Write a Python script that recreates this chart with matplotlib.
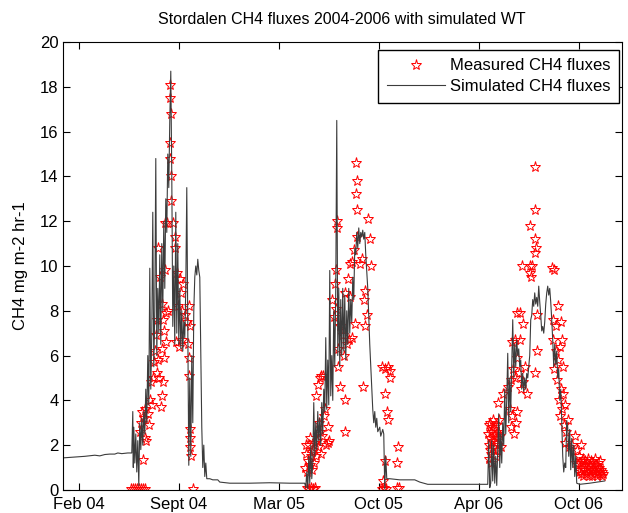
import numpy as np
import matplotlib
matplotlib.use('Agg')
from matplotlib import pyplot as plt

plt.rcParams['font.family'] = ['Liberation Sans', 'DejaVu Sans']

# days since 1 Jan 2004
tick_days = [36, 236, 436, 636, 836, 1036]
tick_labels = ['Feb 04', 'Sept 04', 'Mar 05', 'Oct 05', 'Apr 06', 'Oct 06']

# simulated CH4 flux (day, value)
sim_day = [
    4, 28, 48, 68, 78, 88, 98, 108, 114, 122, 134, 142,
    144, 145, 146, 148, 150, 152, 154, 156, 158, 160, 162, 164, 166, 168, 170, 172,
    174, 176, 178, 180, 182, 184, 186, 188, 190, 192, 194, 196, 198, 200, 202, 204,
    206, 208, 210, 212, 214, 216, 218, 220, 222, 224, 226, 228, 230, 232, 234, 236,
    238, 240, 242, 244, 246, 248, 250, 252, 254, 256, 258, 260, 262, 264, 266, 268,
    270, 272, 274, 276, 278, 280, 282, 284, 286, 288, 290, 292, 294, 298, 304, 314,
    318, 338, 378, 418, 458, 488,
    490, 492, 494, 496, 498, 500, 502, 504, 506, 508, 510, 512, 514, 516, 518, 520,
    522, 524, 526, 528, 530, 532, 534, 536, 538, 540, 542, 544, 546, 548, 550, 552,
    554, 556, 558, 560, 562, 564, 566, 568, 570, 572, 574, 576, 578, 580, 582, 584,
    586, 588, 590, 592, 594, 596, 598, 600, 602, 604, 606, 608, 610, 614, 618, 622,
    624, 626, 628, 630, 632, 634, 638, 640, 644, 646, 648, 650, 652, 658, 678, 708,
    718, 734, 778,
    854, 856, 858, 860, 862, 864, 866, 868, 870, 872, 874, 876, 878, 880, 882, 884,
    886, 888, 890, 892, 894, 896, 898, 900, 902, 904, 906, 908, 910, 912, 914, 916,
    918, 920, 922, 924, 926, 928, 930, 932, 934, 938, 940, 942, 944, 946, 948, 950,
    952, 954, 956, 958, 960, 962, 964, 966, 968, 970, 972, 974, 976, 978, 980, 982,
    984, 986, 988, 990, 992, 994, 996, 998, 1000, 1002, 1004, 1006, 1008, 1010, 1012,
    1014, 1016, 1018, 1020, 1022, 1024, 1026, 1028, 1030, 1032, 1038, 1058, 1088,
]
sim_val = [
    1.43, 1.47, 1.50, 1.55, 1.52, 1.58, 1.60, 1.60, 1.65, 1.62, 1.65, 1.65,
    3.5, 1.0, 2.8, 1.2, 2.5, 0.8, 2.2, 0.2, 3.0, 1.8, 3.2, 2.0, 3.5, 2.5, 4.5, 3.0,
    6.0, 3.8, 9.9, 4.5, 7.0, 12.4, 5.5, 8.0, 14.8, 6.0, 9.0, 7.0, 10.5, 6.5, 11.0, 8.0,
    12.0, 9.0, 13.0, 11.5, 15.0, 13.5, 16.5, 18.7, 14.0, 7.3, 10.0, 6.5, 12.4, 7.0, 11.0, 6.5,
    9.0, 6.3, 8.0, 6.2, 7.5, 6.8, 9.0, 13.5, 7.0, 1.1, 5.0, 1.5, 6.0, 3.0, 8.0, 9.5,
    10.0, 9.6, 10.3, 9.8, 9.5, 6.0, 2.8, 1.0, 2.0, 0.6, 1.2, 0.5, 0.5, 0.5, 0.45, 0.45,
    0.35, 0.3, 0.3, 0.32, 0.3, 0.3,
    0.1, 0.8, 0.05, 1.5, 0.3, 2.0, 0.5, 1.2, 3.9, 1.5, 3.0, 1.8, 3.5, 2.2, 3.2, 2.0,
    3.9, 2.5, 4.5, 3.5, 6.8, 3.6, 5.8, 3.8, 9.8, 4.2, 6.0, 4.0, 8.0, 5.5, 9.0, 16.5,
    6.0, 9.0, 5.5, 8.5, 6.0, 9.0, 6.2, 8.7, 5.8, 8.0, 6.5, 9.0, 7.0, 8.5, 7.5, 9.5,
    8.5, 10.8, 10.5, 11.5, 10.8, 11.7, 11.0, 11.5, 11.3, 11.6, 11.2, 11.5, 10.5, 9.0, 6.5, 4.5,
    3.6, 3.0, 3.5, 2.8, 3.2, 2.6, 2.8, 2.4, 2.7, 2.5, 0.05, 1.5, 0.5, 0.5, 0.45, 0.45,
    0.35, 0.25, 0.25,
    0.25, 2.2, 0.1, 0.3, 2.2, 0.4, 2.0, 0.3, 1.5, 0.2, 1.8, 3.4, 1.0, 2.5, 1.2, 3.0,
    2.0, 4.5, 2.5, 4.0, 6.1, 3.0, 5.0, 3.5, 5.5, 7.6, 5.0, 6.5, 5.5, 6.7, 6.0, 6.3,
    5.5, 5.8, 4.5, 5.2, 4.4, 5.0, 4.5, 5.2, 5.0, 6.0, 7.6, 7.8, 8.5, 8.2, 8.8, 8.3,
    8.6, 8.2, 9.1, 8.4, 7.8, 7.1, 7.3, 7.0, 7.5, 8.3, 8.8, 9.1, 8.7, 9.0, 8.4, 7.6,
    6.7, 5.5, 6.5, 5.6, 6.2, 5.0, 5.4, 4.0, 4.5, 3.1, 1.5, 0.8, 1.2, 1.0, 3.1,
    2.8, 1.5, 2.7, 0.9, 2.3, 1.0, 2.0, 0.6, 1.5, 0.3, 0.25, 0.3, 0.4,
]

# measured CH4 flux (day, value)
meas_day = [
    # 2004
    140, 144, 148, 152, 156, 160, 164, 168, 264,
    164, 158, 160, 166, 168, 170, 162, 168, 174, 176, 178, 180, 182, 184, 186, 188,
    192, 194, 196, 190, 192, 194, 198, 208, 202, 204, 206, 210, 214, 202, 206, 210,
    202, 204, 200, 208, 212, 224, 218, 218, 220, 218, 218, 220, 220,
    228, 228, 232, 238, 240, 244, 234, 242, 248, 252, 256, 258, 230, 236, 242, 254,
    256, 256, 258, 258, 258, 260,
    # 2005
    492, 496, 500, 504, 508,
    488, 490, 492, 494, 496, 498, 500, 502, 504, 506, 508, 490, 498, 502, 510,
    512, 516, 518, 522, 526, 530, 534, 536, 514, 520,
    510, 514, 518, 520, 524, 528, 534,
    542, 546, 550, 548, 550, 552, 552,
    554, 558, 564, 554, 558, 566, 572, 576, 568, 568,
    568, 578, 574, 578, 582, 582, 586, 592, 588, 590, 592, 590, 592, 598, 602, 604,
    606, 608, 608, 612, 614, 618, 620,
    642, 648, 654, 658, 658, 648, 652, 654, 648, 644, 642, 646, 650, 674, 672, 672, 676,
    # 2006
    854, 856, 856, 858, 858, 860, 860, 862, 862, 864, 864, 866, 866, 868, 868, 870,
    870, 872, 872, 874, 874, 876, 878, 880, 858, 860, 856,
    874, 884, 894, 898, 900, 902, 906, 910, 912, 900, 904, 908, 902, 908, 918, 912,
    918, 924, 912, 916, 920, 924, 928, 932, 922, 938, 942, 940, 938, 938, 948, 948,
    948, 950, 948, 952, 952, 948,
    982, 986, 994, 984, 990, 1000, 984, 990, 998, 1002, 994, 1004, 986, 992, 1000, 1004,
    996, 1002, 1008, 998, 1006, 1010, 1014, 1008, 1016, 1022,
    1028, 1032, 1036, 1034, 1038, 1042, 1040, 1030,
    1036, 1038, 1040, 1042, 1044, 1044, 1046, 1048, 1048, 1050, 1052, 1052, 1054, 1054,
    1056, 1058, 1058, 1060, 1062, 1062, 1064, 1066, 1066, 1068, 1068, 1070, 1072, 1072,
    1074, 1074, 1076, 1078, 1078, 1080, 1082, 1082, 1084,
]
meas_val = [
    # 2004
    0.05, 0.05, 0.05, 0.05, 0.05, 0.05, 0.05, 0.05, 0.05,
    1.35, 2.6, 3.0, 3.2, 2.3, 2.2, 3.5, 3.6, 3.4, 2.9, 4.0, 4.8, 3.8, 5.0, 5.7, 6.2,
    5.2, 5.8, 5.0, 6.9, 7.6, 10.8, 9.5, 9.8, 8.3, 7.6, 7.1, 7.9, 8.0, 6.3, 5.9, 6.6,
    4.2, 4.8, 3.7, 11.9, 11.9, 11.9, 18.1, 17.5, 16.8, 15.5, 14.8, 14.0, 12.9,
    11.3, 10.8, 9.7, 9.4, 8.8, 9.2, 8.2, 8.0, 7.8, 7.5, 8.2, 7.3, 6.6, 6.4, 6.7, 6.5,
    5.9, 5.1, 2.7, 2.3, 1.9, 1.5,
    # 2005
    0.1, 0.05, 0.1, 0.05, 0.1,
    1.0, 1.6, 0.8, 1.3, 2.0, 1.1, 1.5, 0.9, 1.8, 1.2, 2.1, 2.0, 2.3, 1.7, 1.5,
    2.2, 3.0, 2.6, 2.4, 3.3, 2.0, 2.8, 2.2, 1.9, 1.6,
    4.2, 4.7, 5.0, 5.1, 5.1, 3.6, 2.1,
    8.5, 7.7, 8.1, 9.2, 9.8, 11.7, 12.0,
    6.3, 7.3, 6.9, 5.5, 4.6, 6.0, 6.5, 6.7, 4.0, 2.6,
    8.8, 8.6, 9.4, 10.1, 10.2, 6.8, 10.7, 11.3, 7.4, 14.6, 13.8, 13.2, 12.5, 10.1, 10.3, 4.6,
    8.5, 8.9, 7.3, 7.8, 12.1, 11.2, 10.0,
    5.5, 5.4, 5.5, 5.3, 5.0, 4.3, 3.5, 3.1, 1.3, 0.4, 0.05, 0.1, 0.05, 1.9, 1.2, 0.1, 0.1,
    # 2006
    2.5, 2.9, 2.0, 2.3, 3.0, 2.6, 1.6, 2.2, 2.8, 3.1, 1.9, 2.4, 2.7, 2.1, 1.5, 2.9,
    2.5, 1.8, 2.3, 2.6, 2.0, 3.1, 2.4, 1.9, 1.8, 1.2, 1.4,
    3.9, 4.3, 4.6, 3.6, 2.8, 3.3, 2.5, 3.0, 3.5, 4.9, 5.4, 5.0, 6.6, 6.7, 6.7, 7.9,
    7.9, 7.4, 5.9, 5.2, 4.5, 4.8, 5.5, 4.3, 10.0, 10.0, 10.0, 9.5, 9.7, 11.8, 12.5, 14.4,
    11.2, 10.8, 10.6, 7.8, 6.2, 5.2,
    9.9, 9.8, 8.2, 7.6, 7.3, 7.5, 6.7, 6.2, 6.4, 6.7, 5.8, 5.5, 5.4, 4.9, 4.5, 4.3,
    4.0, 3.6, 3.8, 3.3, 2.9, 2.6, 3.1, 2.1, 1.9, 2.0,
    2.4, 1.8, 1.5, 1.1, 0.9, 1.3, 2.0, 1.2,
    0.8, 1.2, 0.7, 1.0, 1.4, 0.6, 1.1, 0.9, 1.3, 0.7, 1.2, 0.8, 1.4, 1.0,
    0.6, 1.1, 0.8, 1.3, 0.9, 0.6, 1.2, 0.8, 1.0, 1.4, 0.7, 1.1, 0.9, 0.6,
    1.2, 0.8, 1.0, 0.7, 1.3, 0.9, 0.6, 0.8, 0.7,
]


def plot_fluxes():
    fig = plt.figure(figsize=(6.28, 5.13), dpi=100)
    ax = fig.add_axes([0.100, 0.045, 0.890, 0.873])

    ax.plot(meas_day, meas_val, linestyle='none', marker='*', markersize=8,
            markerfacecolor='none', markeredgecolor='red', markeredgewidth=0.7,
            label='Measured CH4 fluxes')
    ax.plot(sim_day, sim_val, color='#3c3c3c', linewidth=0.8,
            label='Simulated CH4 fluxes')

    ax.set_xlim(4, 1122)
    ax.set_ylim(0, 20)
    ax.set_xticks(tick_days)
    ax.set_xticklabels(tick_labels)
    ax.set_yticks(range(0, 21, 2))
    ax.tick_params(direction='in', top=True, right=True, length=5,
                   labelsize=12, pad=3)
    ax.tick_params(axis='x', pad=5)
    for s in ax.spines.values():
        s.set_linewidth(0.8)

    ax.set_title('Stordalen CH4 fluxes 2004-2006 with simulated WT', fontsize=11.5, pad=13)
    ax.set_ylabel('CH4 mg m-2 hr-1', fontsize=12, labelpad=9)
    ax.legend(loc='upper right', bbox_to_anchor=(0.995, 0.982), fontsize=12,
              fancybox=False, edgecolor='black', framealpha=1, borderaxespad=0,
              handlelength=3.5, borderpad=0.5, labelspacing=0.35, handletextpad=0.3)

    fig.savefig('out.png', dpi=100)
    plt.close(fig)


plot_fluxes()
